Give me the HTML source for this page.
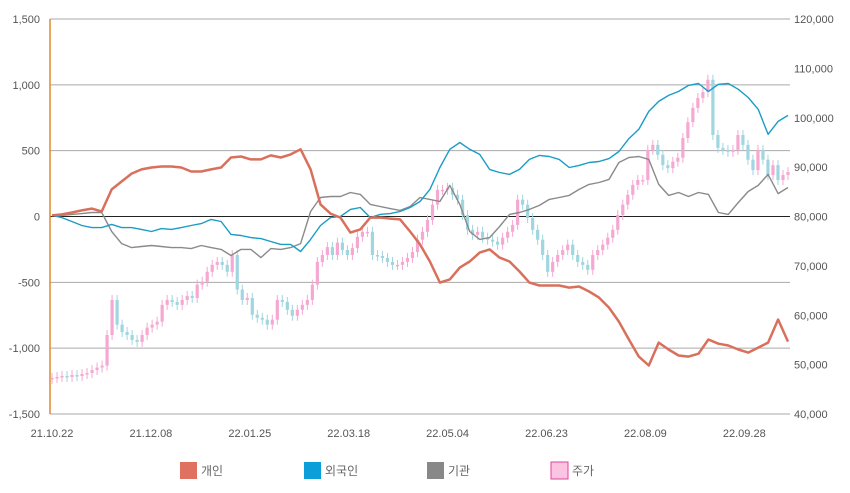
<!DOCTYPE html>
<html><head><meta charset="utf-8"><style>
html,body{margin:0;padding:0;background:#fff;width:850px;height:493px;overflow:hidden}
svg{display:block}
text{font-family:"Liberation Sans","Noto Sans CJK KR",sans-serif;font-size:11px;fill:#555}
.lg{font-size:12px;fill:#666}
</style></head><body>
<svg id="chart" width="850" height="493" viewBox="0 0 850 493"></svg>
<script>
const leftTicks=[1500,1000,500,0,-500,-1000,-1500];
const rightTicks=[120000,110000,100000,90000,80000,70000,60000,50000,40000];
const dateLabels=["21.10.22","21.12.08","22.01.25","22.03.18","22.05.04","22.06.23","22.08.09","22.09.28"];
const individual=[8,16,30,46,60,38,206,266,326,358,372,380,380,372,342,342,358,372,448,456,434,434,464,448,472,510,358,92,22,-8,-122,-98,-8,-8,-16,-22,-114,-212,-342,-502,-478,-388,-342,-274,-250,-312,-342,-418,-502,-524,-524,-524,-540,-532,-570,-616,-692,-798,-934,-1064,-1132,-958,-1010,-1056,-1064,-1042,-934,-966,-980,-1010,-1034,-996,-958,-782,-950];
const foreign=[8,-8,-38,-68,-84,-84,-60,-84,-84,-98,-114,-92,-98,-84,-68,-54,-22,-38,-136,-144,-160,-168,-190,-212,-212,-266,-174,-68,-8,0,54,68,-8,16,22,38,68,114,206,372,510,562,510,472,358,334,320,358,434,464,456,434,372,388,410,418,440,494,592,662,798,874,920,950,996,1010,950,1004,1010,966,904,814,624,722,768];
const institution=[8,8,16,22,30,30,-114,-206,-236,-228,-220,-228,-236,-236,-244,-220,-236,-250,-296,-250,-250,-312,-244,-250,-236,-206,38,144,152,152,182,168,92,76,60,46,76,144,130,114,236,92,-114,-174,-160,-76,16,30,54,84,130,144,160,206,244,258,282,410,448,456,434,244,160,182,152,182,168,30,16,106,190,236,320,174,220];
const price=[47300,47500,47700,47500,47900,47700,48100,48300,48900,49400,49800,56000,63100,58100,56600,56000,55000,54600,56000,57500,58100,58700,62100,63100,62700,62100,63100,63900,63500,66200,66800,68800,70200,70800,70200,68800,72200,65200,63100,63500,60100,59500,59100,58100,59100,63100,62700,61100,59900,61100,62100,63100,66200,70800,72200,73800,72200,74700,73200,72200,73600,75900,76900,76900,72200,72000,71600,70800,70200,70200,70800,71600,72800,75300,76900,79300,82400,85400,85400,85800,84400,83400,80300,77300,76300,76900,75700,75300,74900,74300,75700,76900,78300,83400,82400,79700,77300,75300,72200,68800,70800,72200,73200,74300,72200,70800,70200,69200,72200,73200,74300,75700,77300,80300,82400,84400,86400,87400,87400,93500,94500,92500,90400,89800,91100,91900,95900,99100,102000,104000,105200,107700,96500,93900,93500,93100,93500,96500,94500,91500,89400,93500,91500,88400,90400,87400,88400,89000];

const svg=document.getElementById('chart');
const NS='http://www.w3.org/2000/svg';
const X0=50,X1=790,Y0=19,Y1=414,PX0=52,PX1=788;
const yL=v=>Y0+(1500-v)/3000*(Y1-Y0);
const yR=v=>Y0+(120000-v)/80000*(Y1-Y0);
const xLine=i=>PX0+i*(PX1-PX0)/(individual.length-1);
const xCandle=i=>PX0+i*(PX1-PX0)/(price.length-1);
const xDate=i=>52+i*98.9;
function mk(tag,attrs,parent){const e=document.createElementNS(NS,tag);for(const k in attrs)e.setAttribute(k,attrs[k]);(parent||svg).appendChild(e);return e;}

const grid=mk('g',{});


leftTicks.forEach(v=>{
  const l=mk('line',{x1:X0,x2:X1,y1:yL(v),y2:yL(v),stroke:v===0?'#222':'#aaa','stroke-width':1},grid);
  
  
  const t=mk('text',{x:40,y:yL(v)+4,'text-anchor':'end'});
  t.textContent=v.toLocaleString('en-US');
  
  
});
rightTicks.forEach(v=>{
  const t=mk('text',{x:794,y:yR(v)+4,'text-anchor':'start'});
  t.textContent=v.toLocaleString('en-US');
  
  
});
const ax=mk('line',{x1:X0,x2:X0,y1:Y0,y2:Y1,stroke:'#e08a2c','stroke-width':1.5});


dateLabels.forEach((d,i)=>{
  const t=mk('text',{x:xDate(i),y:437,'text-anchor':'middle'});
  t.textContent=d;
  
  
});

const cg=mk('g',{});


price.forEach((c,i)=>{
  const o=i===0?c-200:price[i-1];
  const up=c>=o;
  const x=xCandle(i);
  const yt=Math.min(yR(o),yR(c)),yb=Math.max(yR(o),yR(c));
  const col=up?'#f5a9d2':'#9fd6df';
  const w=mk('line',{x1:x,x2:x,y1:yt-5,y2:yb+5,stroke:col,'stroke-width':1},cg);
  
  
  const r=mk('rect',{x:x-1.6,y:yt,width:3.2,height:Math.max(1.5,yb-yt),fill:col},cg);
  
  
});

function series(arr,col,w,name){
  const d=arr.map((v,i)=>(i?'L':'M')+xLine(i).toFixed(1)+','+yL(v).toFixed(1)).join('');
  const p=mk('path',{d:d,fill:'none',stroke:col,'stroke-width':w,'stroke-linejoin':'round'});
  
  
}
series(institution,'#8a8a8a',1.4,'institution-line');
series(foreign,'#1a9cc6',1.4,'foreign-line');
series(individual,'#d9705c',2.5,'individual-line');

const legend=[['#e07060','개인',180,'legend-individual'],['#0b9ed8','외국인',304,'legend-foreign'],['#888','기관',427,'legend-institution'],['#fbc4e3','주가',551,'legend-price']];
legend.forEach(([c,lab,x,n])=>{
  const g=mk('g',{});
  
  
  const r=mk('rect',{x:x,y:462,width:17,height:17,fill:c,stroke:n==='legend-price'?'#e0449a':'none','stroke-width':1},g);
  
  
  const t=mk('text',{x:x+21,y:475,class:'lg'},g);
  t.textContent=lab;
  
  
});
</script>
</body></html>
